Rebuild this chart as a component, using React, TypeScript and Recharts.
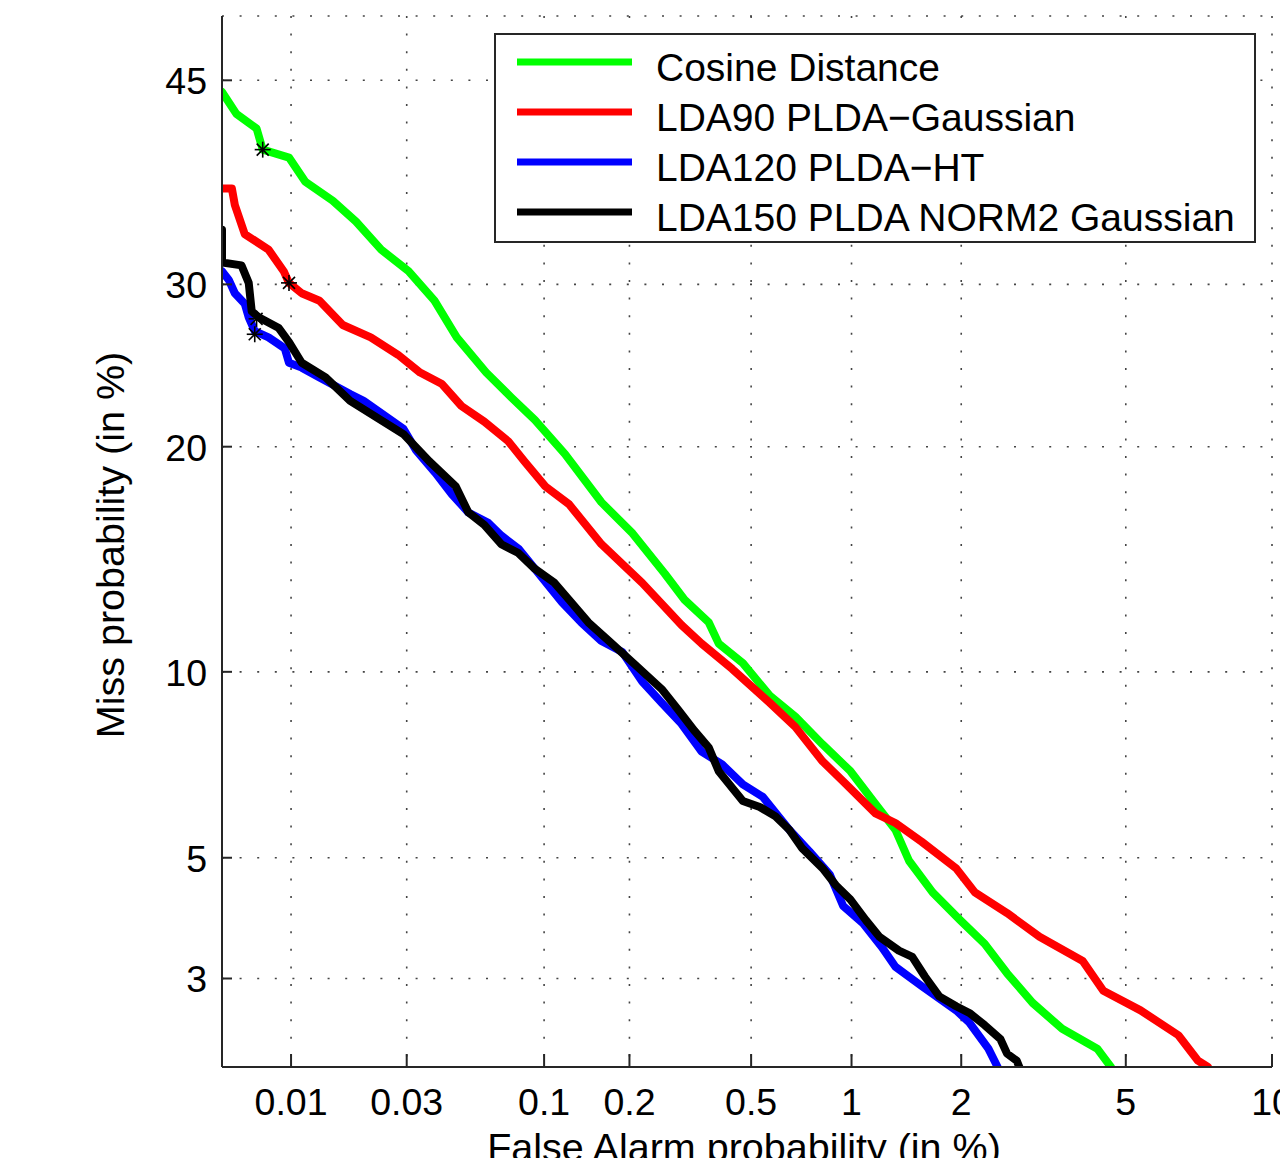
import { ComposedChart, Line, Scatter, XAxis, YAxis, CartesianGrid, Legend } from 'recharts';

// false alarm / miss probabilities in %
const cosineFa = [0.005, 0.0058, 0.0071, 0.00755, 0.0098, 0.0115, 0.015, 0.0187, 0.0237, 0.0305, 0.0386, 0.0471, 0.061, 0.0758, 0.0925, 0.119, 0.16, 0.205, 0.263, 0.306, 0.367, 0.395, 0.471, 0.571, 0.683, 0.824, 0.993, 1.17, 1.33, 1.45, 1.68, 1.99, 2.3, 2.62, 3.03, 3.57, 4.31, 4.63];
const cosineMiss = [44.1, 42.4, 41.3, 39.7, 39.1, 37.3, 35.9, 34.4, 32.4, 30.9, 28.9, 26.5, 24.3, 22.8, 21.5, 19.6, 17.1, 15.6, 13.8, 12.7, 11.8, 11.0, 10.3, 9.21, 8.55, 7.73, 7.0, 6.18, 5.59, 4.94, 4.34, 3.86, 3.49, 3.07, 2.69, 2.39, 2.18, 2.0];

const lda90Fa = [0.005, 0.00553, 0.0057, 0.0063, 0.008, 0.0093, 0.0098, 0.0111, 0.0132, 0.0165, 0.0215, 0.0277, 0.0339, 0.0413, 0.0491, 0.06, 0.0738, 0.0848, 0.101, 0.123, 0.16, 0.221, 0.299, 0.348, 0.436, 0.571, 0.683, 0.824, 0.946, 1.17, 1.33, 1.57, 1.94, 2.17, 2.62, 3.15, 3.99, 4.45, 5.39, 6.5, 7.14, 7.48];
const lda90Miss = [36.8, 36.8, 35.6, 33.5, 32.4, 30.9, 30.1, 29.4, 28.9, 27.3, 26.5, 25.4, 24.3, 23.6, 22.3, 21.4, 20.3, 19.2, 17.9, 17.0, 15.1, 13.4, 11.7, 11.0, 10.1, 8.98, 8.24, 7.26, 6.74, 5.96, 5.74, 5.33, 4.79, 4.34, 3.98, 3.6, 3.24, 2.84, 2.6, 2.32, 2.06, 2.0];

const lda120Fa = [0.005, 0.00536, 0.0057, 0.0063, 0.00656, 0.00697, 0.008, 0.0094, 0.0098, 0.0111, 0.0132, 0.0177, 0.0201, 0.0291, 0.0327, 0.0389, 0.0451, 0.0522, 0.0621, 0.0695, 0.0805, 0.0925, 0.116, 0.136, 0.16, 0.189, 0.221, 0.257, 0.299, 0.348, 0.405, 0.471, 0.544, 0.655, 0.753, 0.865, 0.946, 1.08, 1.22, 1.33, 1.57, 1.94, 2.1, 2.35, 2.48];
const lda120Miss = [30.9, 30.3, 29.4, 28.7, 27.8, 26.9, 26.5, 25.8, 24.9, 24.6, 24.0, 23.0, 22.6, 21.0, 19.8, 18.6, 17.5, 16.6, 16.1, 15.5, 14.9, 14.0, 12.6, 11.8, 11.1, 10.7, 9.67, 8.98, 8.33, 7.53, 7.18, 6.66, 6.35, 5.59, 5.13, 4.67, 4.1, 3.81, 3.44, 3.16, 2.9, 2.6, 2.46, 2.18, 2.0];

const lda150Fa = [0.005, 0.005, 0.0061, 0.00656, 0.00676, 0.00725, 0.00886, 0.0098, 0.0111, 0.014, 0.0177, 0.0291, 0.0369, 0.0467, 0.0522, 0.06, 0.0695, 0.0805, 0.0925, 0.109, 0.123, 0.144, 0.17, 0.209, 0.257, 0.292, 0.33, 0.367, 0.395, 0.471, 0.532, 0.595, 0.655, 0.717, 0.824, 0.901, 0.993, 1.1, 1.2, 1.36, 1.48, 1.6, 1.75, 1.94, 2.1, 2.3, 2.52, 2.62, 2.77, 2.81];
const lda150Miss = [33.8, 31.5, 31.3, 30.1, 28.2, 27.8, 27.1, 26.2, 24.9, 24.0, 22.6, 20.7, 19.2, 17.9, 16.6, 16.0, 15.1, 14.7, 14.0, 13.4, 12.7, 11.8, 11.1, 10.25, 9.42, 8.75, 8.12, 7.64, 7.0, 6.25, 6.11, 5.89, 5.59, 5.19, 4.79, 4.47, 4.21, 3.86, 3.6, 3.39, 3.3, 3.03, 2.77, 2.65, 2.57, 2.43, 2.28, 2.13, 2.06, 2.0];

// min DCF points
const starFa = [0.00755, 0.0098, 0.00697, 0.0071];
const starMiss = [39.7, 30.1, 26.7, 27.7];

const seriesNames = ['Cosine Distance', 'LDA90 PLDA\u2212Gaussian', 'LDA120 PLDA\u2212HT', 'LDA150 PLDA NORM2 Gaussian'];
const seriesColors = ['#00ff00', '#ff0000', '#0000ff', '#000000'];

const faTicks = [0.01, 0.03, 0.1, 0.2, 0.5, 1, 2, 5, 10];
const missTicks = [3, 5, 10, 20, 30, 45];

// inverse normal cdf (Acklam)
function probit(p: number) {
  const a = [-39.69683028665376, 220.9460984245205, -275.9285104469687, 138.357751867269, -30.66479806614716, 2.506628277459239];
  const b = [-54.47609879822406, 161.5858368580409, -155.6989798598866, 66.80131188771972, -13.28068155288572];
  const c = [-0.007784894002430293, -0.3223964580411365, -2.400758277161838, -2.549732539343734, 4.374664141464968, 2.938163982698783];
  const d = [0.007784695709041462, 0.3224671290700398, 2.445134137142996, 3.754408661907416];
  const plow = 0.02425;
  if (p < plow) {
    const q = Math.sqrt(-2 * Math.log(p));
    return (((((c[0] * q + c[1]) * q + c[2]) * q + c[3]) * q + c[4]) * q + c[5]) / ((((d[0] * q + d[1]) * q + d[2]) * q + d[3]) * q + 1);
  }
  if (p <= 1 - plow) {
    const q = p - 0.5;
    const r = q * q;
    return ((((((a[0] * r + a[1]) * r + a[2]) * r + a[3]) * r + a[4]) * r + a[5]) * q) / (((((b[0] * r + b[1]) * r + b[2]) * r + b[3]) * r + b[4]) * r + 1);
  }
  const q = Math.sqrt(-2 * Math.log(1 - p));
  return -(((((c[0] * q + c[1]) * q + c[2]) * q + c[3]) * q + c[4]) * q + c[5]) / ((((d[0] * q + d[1]) * q + d[2]) * q + d[3]) * q + 1);
}

const toPoints = (fa: number[], miss: number[]) => fa.map((f, i) => ({ x: probit(f / 100), y: probit(miss[i] / 100) }));

const series = [
  toPoints(cosineFa, cosineMiss),
  toPoints(lda90Fa, lda90Miss),
  toPoints(lda120Fa, lda120Miss),
  toPoints(lda150Fa, lda150Miss),
];
const stars = toPoints(starFa, starMiss);

const xDomain = [probit(0.00005), probit(0.1)];
const yDomain = [probit(0.02), probit(0.5)];

// label for a probit-space tick value
const tickLabel = (list: number[], v: number) => {
  let best = list[0];
  list.forEach((t) => {
    if (Math.abs(probit(t / 100) - v) < Math.abs(probit(best / 100) - v)) best = t;
  });
  return String(best);
};

const FONT = '"Liberation Sans", Arial, Helvetica, sans-serif';
const AXIS = '#262626';

const XTick = ({ x, y, payload }: any) => (
  <g>
    <line x1={x} x2={x} y1={y} y2={y - 13} stroke={AXIS} strokeWidth={2} />
    <text x={x} y={y + 48} textAnchor="middle" fontSize={37.5} fontFamily={FONT} fill="#000">
      {tickLabel(faTicks, payload.value)}
    </text>
  </g>
);

const YTick = ({ x, y, payload }: any) => (
  <g>
    <line x1={x} x2={x + 10} y1={y} y2={y} stroke={AXIS} strokeWidth={2} />
    <text x={x - 15} y={y + 14} textAnchor="end" fontSize={37.5} fontFamily={FONT} fill="#000">
      {tickLabel(missTicks, payload.value)}
    </text>
  </g>
);

const Star = ({ cx, cy }: any) => (
  <g stroke="#000" strokeWidth={1.6}>
    <line x1={cx - 8} x2={cx + 8} y1={cy} y2={cy} />
    <line x1={cx} x2={cx} y1={cy - 8} y2={cy + 8} />
    <line x1={cx - 6} x2={cx + 6} y1={cy - 6} y2={cy + 6} />
    <line x1={cx - 6} x2={cx + 6} y1={cy + 6} y2={cy - 6} />
  </g>
);

const LegendBox = () => (
  <svg width={762} height={210} style={{ display: 'block' }}>
    <rect x={1} y={1} width={760} height={208} fill="#fff" stroke={AXIS} strokeWidth={2} />
    {seriesNames.map((name, i) => (
      <g key={name}>
        <line x1={23} x2={138} y1={29 + i * 50} y2={29 + i * 50} stroke={seriesColors[i]} strokeWidth={7} />
        <text x={162} y={48 + i * 50} fontSize={39} fontFamily={FONT} fill="#000">
          {name}
        </text>
      </g>
    ))}
  </svg>
);

export default function App() {
  return (
    <div style={{ width: 1280, height: 1150 }}>
      <ComposedChart width={1280} height={1150} margin={{ top: 8, right: 16, left: 154, bottom: 31 }}>
        <CartesianGrid stroke="#444" strokeWidth={1.6} strokeDasharray="2 15.6" fill="none" />
        <XAxis
          type="number"
          dataKey="x"
          domain={xDomain}
          allowDataOverflow
          interval={0}
          ticks={faTicks.map((t) => probit(t / 100))}
          tick={<XTick />}
          tickLine={false}
          tickSize={0}
          tickMargin={0}
          height={60}
          axisLine={{ stroke: AXIS, strokeWidth: 2 }}
          label={{
            content: () => (
              <text x={736} y={1153} textAnchor="middle" fontSize={39.5} fontFamily={FONT} fill="#000">
                False Alarm probability (in %)
              </text>
            ),
          }}
        />
        <YAxis
          type="number"
          dataKey="y"
          domain={yDomain}
          allowDataOverflow
          interval={0}
          ticks={missTicks.map((t) => probit(t / 100))}
          tick={<YTick />}
          tickLine={false}
          tickSize={0}
          tickMargin={0}
          width={60}
          axisLine={{ stroke: AXIS, strokeWidth: 2 }}
          label={{
            content: () => (
              <text x={116} y={537} transform="rotate(-90 116 537)" textAnchor="middle" fontSize={39.5} fontFamily={FONT} fill="#000">
                Miss probability (in %)
              </text>
            ),
          }}
        />
        {series.map((pts, i) => (
          <Line
            key={seriesNames[i]}
            data={pts}
            dataKey="y"
            name={seriesNames[i]}
            type="linear"
            stroke={seriesColors[i]}
            strokeWidth={8}
            strokeLinejoin="round"
            strokeLinecap="round"
            dot={false}
            activeDot={false}
            isAnimationActive={false}
          />
        ))}
        <Scatter data={stars} dataKey="y" shape={<Star />} isAnimationActive={false} legendType="none" />
        <Legend
          layout="vertical"
          align="center"
          verticalAlign="middle"
          content={() => <LegendBox />}
          wrapperStyle={{ top: 25, left: 486, width: 762, height: 210 }}
        />
      </ComposedChart>
    </div>
  );
}
